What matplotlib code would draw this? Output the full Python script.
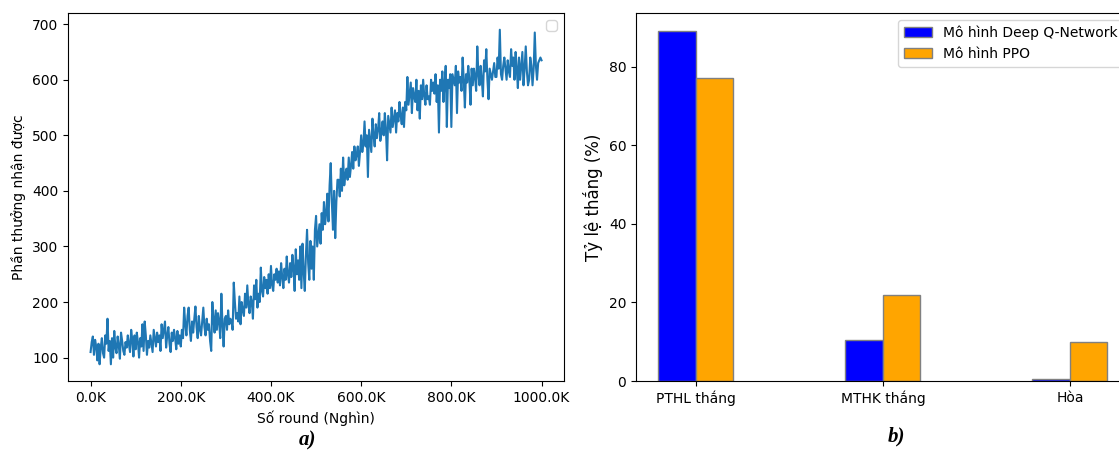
import numpy as np
import matplotlib.pyplot as plt
from matplotlib.ticker import FuncFormatter

# reward curve, one value every 2.5K rounds
reward = [
    110, 128, 138, 105, 132, 120, 95, 125, 88, 118, 135, 108, 100, 140, 125, 170, 112, 130, 88, 135,
    100, 148, 118, 108, 138, 122, 98, 145, 130, 112, 105, 128, 118, 140, 124, 110, 150, 132, 102, 140,
    115, 145, 128, 100, 135, 120, 160, 112, 165, 140, 105, 130, 118, 140, 125, 110, 150, 135, 120, 145,
    128, 140, 112, 160, 135, 150, 165, 118, 140, 155, 125, 110, 145, 130, 150, 135, 115, 148, 125, 140,
    120, 150, 135, 190, 160, 140, 175, 190, 150, 130, 165, 145, 170, 192, 155, 135, 175, 150, 140, 165,
    190, 155, 140, 170, 150, 160, 130, 112, 200, 170, 145, 185, 150, 180, 165, 135, 215, 160, 120, 170,
    175, 150, 185, 160, 170, 165, 150, 235, 200, 170, 180, 165, 210, 160, 200, 185, 175, 215, 190, 230,
    195, 180, 210, 200, 170, 230, 205, 240, 190, 215, 200, 262, 220, 210, 245, 225, 240, 215, 250, 225,
    265, 230, 220, 250, 240, 260, 235, 255, 230, 270, 245, 225, 260, 240, 282, 250, 235, 270, 245, 285,
    260, 220, 295, 250, 275, 240, 300, 225, 305, 255, 220, 285, 330, 270, 240, 310, 260, 300, 240, 330,
    355, 300, 320, 340, 305, 360, 330, 380, 340, 360, 395, 345, 410, 450, 380, 330, 400, 315, 380, 420,
    420, 390, 440, 400, 460, 410, 430, 440, 420, 460, 425, 445, 470, 440, 480, 455, 465, 480, 445, 470,
    500, 470, 485, 525, 480, 500, 425, 510, 490, 470, 530, 500, 480, 520, 495, 510, 540, 490, 505, 525,
    500, 540, 510, 455, 535, 520, 505, 550, 515, 530, 545, 505, 540, 525, 560, 535, 520, 550, 515, 560,
    545, 605, 555, 575, 595, 540, 585, 570, 560, 600, 545, 580, 530, 590, 565, 600, 570, 555, 590, 565,
    570, 555, 600, 580, 595, 575, 610, 560, 590, 505, 600, 580, 615, 560, 595, 625, 515, 600, 585, 610,
    515, 610, 600, 590, 625, 540, 615, 595, 605, 580, 640, 600, 550, 610, 595, 625, 600, 555, 620, 590,
    620, 605, 580, 660, 610, 590, 625, 600, 570, 635, 615, 655, 600, 565, 620, 610, 600, 615, 630, 605,
    605, 640, 620, 690, 610, 600, 625, 640, 620, 600, 635, 615, 605, 655, 625, 640, 600, 650, 620, 585,
    640, 600, 625, 650, 590, 620, 660, 615, 590, 600, 640, 625, 590, 620, 685, 625, 600, 630, 635, 640,
    635,
]
rounds = np.arange(len(reward)) * 2500

categories = ["PTHL thắng", "MTHK thắng", "Hòa"]
dqn_rate = [89.2, 10.4, 0.4]
ppo_rate = [77.2, 21.8, 9.9]

fig = plt.figure(figsize=(11.19, 4.5), dpi=100)

# --- a) reward curve
ax1 = fig.add_axes([0.0608, 0.1533, 0.4433, 0.8178])
ax1.plot(rounds, reward, color="#1f77b4", linewidth=1.5)
ax1.xaxis.set_major_formatter(FuncFormatter(lambda v, _: f"{v / 1000:.1f}K"))
ax1.set_xlabel("Số round (Nghìn)", fontsize=10)
ax1.set_ylabel("Phần thưởng nhận được", fontsize=10)
ax1.legend(handles=[], loc="upper right")

# --- b) win rates
ax2 = fig.add_axes([0.5684, 0.1533, 0.4412, 0.8178])
x = np.arange(len(categories))
w = 0.2
ax2.bar(x - w / 2, dqn_rate, w, color="blue", edgecolor="grey", label="Mô hình Deep Q-Network")
ax2.bar(x + w / 2, ppo_rate, w, color="orange", edgecolor="grey", label="Mô hình PPO")
ax2.set_xticks(x)
ax2.set_xticklabels(categories, fontsize=10)
ax2.set_ylabel("Tỷ lệ thắng (%)", fontsize=12)
ax2.legend(loc="upper right", fontsize=10)

fig.text(0.275, 0.022, "a)", family="Liberation Serif", fontsize=15,
         fontweight="bold", fontstyle="italic", ha="center", va="center")
fig.text(0.8007, 0.029, "b)", family="Liberation Serif", fontsize=15,
         fontweight="bold", fontstyle="italic", ha="center", va="center")

fig.savefig("out.png", dpi=100)
plt.close(fig)
